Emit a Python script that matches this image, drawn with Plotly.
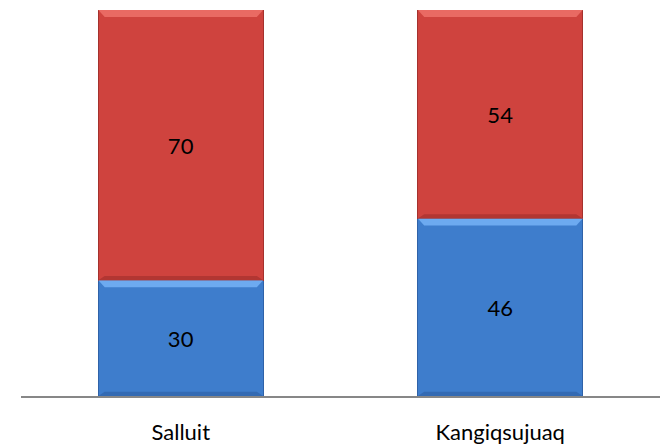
import plotly.graph_objects as go

categories = ["Salluit", "Kangiqsujuaq"]
blue_values = [30, 46]
red_values = [70, 54]

BLUE = "#3E7DCC"
RED = "#CF433E"
BAR_HALF = 0.258

fig = go.Figure()
fig.add_trace(go.Bar(x=categories, y=blue_values, marker=dict(color=BLUE, line=dict(color="#2F62A8", width=1)),
                     text=[str(v) for v in blue_values], textposition="inside", insidetextanchor="middle",
                     textfont=dict(color="black", size=22, family="Lato"), width=2 * BAR_HALF, showlegend=False))
fig.add_trace(go.Bar(x=categories, y=red_values, marker=dict(color=RED, line=dict(color="#A5312D", width=1)),
                     text=[str(v) for v in red_values], textposition="inside", insidetextanchor="middle",
                     textfont=dict(color="black", size=22, family="Lato"), width=2 * BAR_HALF, showlegend=False))

# bevel highlights derived from the data
shapes = []
for i, (b, r) in enumerate(zip(blue_values, red_values)):
    for base, top, hi, lo in [(0, b, "#6DAAF0", "#2F62A8"), (b, b + r, "#E96A63", "#A5312D")]:
        x0, x1 = i - BAR_HALF, i + BAR_HALF
        d = 1.8
        dx = 0.02
        shapes.append(dict(type="path", xref="x", yref="y",
                           path=f"M {x0},{top} L {x1},{top} L {x1-dx},{top-d} L {x0+dx},{top-d} Z",
                           fillcolor=hi, line=dict(width=0), layer="above"))
        shapes.append(dict(type="path", xref="x", yref="y",
                           path=f"M {x0},{base} L {x1},{base} L {x1-dx},{base+d*0.6} L {x0+dx},{base+d*0.6} Z",
                           fillcolor=lo, line=dict(width=0), opacity=0.7, layer="above"))

fig.update_layout(
    barmode="stack",
    width=666, height=447,
    margin=dict(l=21, r=6, t=10, b=51, autoexpand=False),
    plot_bgcolor="white", paper_bgcolor="white",
    shapes=shapes,
    font=dict(family="Lato", color="black"),
    xaxis=dict(showline=True, linecolor="#878787", linewidth=2, ticks="", tickfont=dict(size=22, family="Lato", color="black"),
               ticklabelstandoff=16, showgrid=False, zeroline=False, automargin=False),
    yaxis=dict(range=[0, 100], visible=False, showgrid=False, zeroline=False, automargin=False),
)
fig.write_html("out.html", config={"displayModeBar": False}, post_script="document.body.style.margin='0';")
